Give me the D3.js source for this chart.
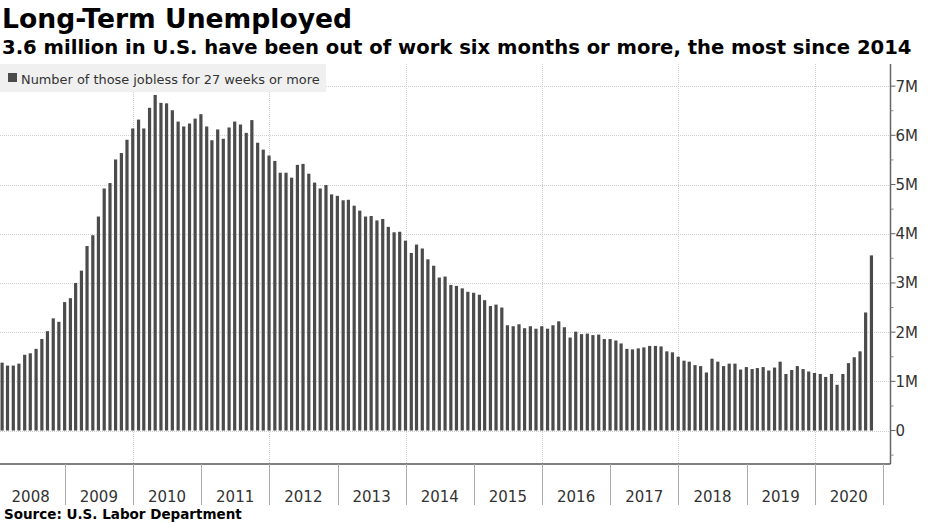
<!DOCTYPE html>
<html>
<head>
<meta charset="utf-8">
<script src="https://cdn.jsdelivr.net/npm/d3@7"></script>
<style>
    body { margin: 0; background: #fff; }
    svg { display: block; font-family: 'DejaVu Sans', Verdana, sans-serif; }
</style>
</head>
<body>
<svg id="chart" width="930" height="523"></svg>
<script>
// Long-term unemployed (27 weeks or more), millions, monthly
const v2008 = [1.38, 1.32, 1.32, 1.36, 1.54, 1.57, 1.66, 1.86, 2.02, 2.28, 2.21, 2.61];
const v2009 = [2.69, 3.00, 3.25, 3.75, 3.97, 4.35, 4.92, 5.03, 5.51, 5.64, 5.91, 6.14];
const v2010 = [6.32, 6.14, 6.56, 6.82, 6.66, 6.65, 6.51, 6.28, 6.18, 6.24, 6.34, 6.43];
const v2011 = [6.18, 5.90, 6.12, 5.93, 6.16, 6.28, 6.22, 6.05, 6.31, 5.85, 5.71, 5.59];
const v2012 = [5.48, 5.24, 5.24, 5.14, 5.40, 5.42, 5.22, 5.04, 4.92, 4.99, 4.80, 4.77];
const v2013 = [4.68, 4.69, 4.57, 4.47, 4.35, 4.36, 4.27, 4.30, 4.14, 4.03, 4.04, 3.86];
const v2014 = [3.61, 3.78, 3.70, 3.48, 3.35, 3.11, 3.13, 2.96, 2.94, 2.89, 2.82, 2.80];
const v2015 = [2.76, 2.65, 2.53, 2.56, 2.50, 2.14, 2.12, 2.16, 2.08, 2.12, 2.07, 2.12];
const v2016 = [2.07, 2.14, 2.22, 2.10, 1.89, 2.01, 1.96, 1.97, 1.94, 1.95, 1.86, 1.86];
const v2017 = [1.83, 1.77, 1.66, 1.65, 1.67, 1.69, 1.72, 1.72, 1.71, 1.61, 1.59, 1.50];
const v2018 = [1.42, 1.40, 1.33, 1.31, 1.18, 1.46, 1.40, 1.31, 1.36, 1.36, 1.24, 1.29];
const v2019 = [1.25, 1.27, 1.29, 1.22, 1.28, 1.40, 1.15, 1.23, 1.31, 1.25, 1.20, 1.17];
const v2020 = [1.15, 1.09, 1.15, 0.93, 1.15, 1.37, 1.49, 1.61, 2.40, 3.56];

const years = [2008, 2009, 2010, 2011, 2012, 2013, 2014, 2015, 2016, 2017, 2018, 2019, 2020];
const yTicks = [0, 1, 2, 3, 4, 5, 6, 7];
const yTickLabels = ['0', '1M', '2M', '3M', '4M', '5M', '6M', '7M'];

const title = 'Long-Term Unemployed';
const subtitle = '3.6 million in U.S. have been out of work six months or more, the most since 2014';
const legendLabel = 'Number of those jobless for 27 weeks or more';
const source = 'Source: U.S. Labor Department';

const BAR_COLOR = '#4b4b4b';
const GRID_COLOR = '#cfcfcf';

// monthly observations are stamped at month end, like the terminal does
const yearly = [v2008, v2009, v2010, v2011, v2012, v2013, v2014, v2015, v2016, v2017, v2018, v2019, v2020];
const data = [];
yearly.forEach((vals, yi) => {
    vals.forEach((v, m) => data.push({ date: new Date(years[yi], m + 1, 0), value: v }));
});

const svg = d3.select('#chart');

const plot = { left: 0, right: 890.5, top: 64, bottom: 464 };

const x = d3.scaleTime()
    .domain([new Date(2008, 0, 1), new Date(2021, 0, 1)])
    .range([-3.5, 883]);

const y = d3.scaleLinear()
    .domain([-0.68, 7.45])
    .range([plot.bottom, plot.top]);

svg.append('defs').append('clipPath').attr('id', 'plot-clip')
    .append('rect')
    .attr('x', plot.left).attr('y', plot.top)
    .attr('width', plot.right - plot.left).attr('height', plot.bottom - plot.top);

// gridlines: every million across, every other year down
const grid = svg.append('g').attr('clip-path', 'url(#plot-clip)');

grid.selectAll('.hgrid')
    .data(yTicks)
    .enter()
    .append('line')
    .attr('x1', plot.left)
    .attr('x2', plot.right)
    .attr('y1', d => Math.round(y(d)) + 0.5)
    .attr('y2', d => Math.round(y(d)) + 0.5)
    .style('stroke', GRID_COLOR)
    .style('stroke-width', '1px')
    .style('stroke-dasharray', '1,1');

grid.selectAll('.vgrid')
    .data(years.filter(d => d % 2 === 0))
    .enter()
    .append('line')
    .attr('x1', d => Math.round(x(new Date(d, 0, 1))) + 0.5)
    .attr('x2', d => Math.round(x(new Date(d, 0, 1))) + 0.5)
    .attr('y1', plot.top)
    .attr('y2', plot.bottom)
    .style('stroke', GRID_COLOR)
    .style('stroke-width', '1px')
    .style('stroke-dasharray', '1,1');

// bars
const barWidth = 3.2;
svg.append('g')
    .attr('clip-path', 'url(#plot-clip)')
    .selectAll('rect')
    .data(data)
    .enter()
    .append('rect')
    .attr('x', d => x(d.date) - barWidth / 2)
    .attr('width', barWidth)
    .attr('y', d => y(d.value))
    .attr('height', d => y(0) - y(d.value))
    .style('fill', BAR_COLOR);

// legend
const legend = svg.append('g');
legend.append('rect')
    .attr('x', 0).attr('y', 64)
    .attr('width', 326).attr('height', 28)
    .style('fill', '#f0f0f0');
legend.append('rect')
    .attr('x', 8).attr('y', 73)
    .attr('width', 9).attr('height', 9)
    .style('fill', BAR_COLOR);
legend.append('text')
    .attr('x', 21).attr('y', 83.5)
    .style('font-size', '12.9px')
    .style('fill', '#333')
    .text(legendLabel);

// right axis
const yAxis = svg.append('g').attr('transform', 'translate(' + plot.right + ',0)');
yAxis.append('line')
    .attr('x1', 0).attr('x2', 0)
    .attr('y1', plot.top).attr('y2', plot.bottom)
    .style('stroke', '#666')
    .style('stroke-width', '1.5px');

const minorTicks = d3.range(-0.5, 7.5, 0.5).filter(d => !Number.isInteger(d));
yAxis.selectAll('.minor')
    .data(minorTicks)
    .enter()
    .append('line')
    .attr('x1', 0).attr('x2', 3)
    .attr('y1', d => y(d)).attr('y2', d => y(d))
    .style('stroke', '#888');

yAxis.selectAll('.major')
    .data(yTicks)
    .enter()
    .append('line')
    .attr('x1', 0).attr('x2', 5)
    .attr('y1', d => y(d)).attr('y2', d => y(d))
    .style('stroke', '#666');

yAxis.selectAll('.label')
    .data(yTicks)
    .enter()
    .append('text')
    .attr('x', 5)
    .attr('y', d => y(d))
    .attr('dy', '0.36em')
    .style('font-size', '15px')
    .style('fill', '#333')
    .text((d, i) => yTickLabels[i]);

// bottom axis
const xAxis = svg.append('g');
xAxis.append('line')
    .attr('x1', plot.left).attr('x2', plot.right)
    .attr('y1', plot.bottom).attr('y2', plot.bottom)
    .style('stroke', '#555')
    .style('stroke-width', '1.5px');

xAxis.selectAll('.sep')
    .data(years.concat([2021]))
    .enter()
    .append('line')
    .attr('x1', d => Math.round(x(new Date(d, 0, 1))) + 0.5)
    .attr('x2', d => Math.round(x(new Date(d, 0, 1))) + 0.5)
    .attr('y1', plot.bottom)
    .attr('y2', 505)
    .style('stroke', '#aaa')
    .style('stroke-width', '1px');

xAxis.selectAll('.year')
    .data(years)
    .enter()
    .append('text')
    .attr('x', d => (x(new Date(d, 0, 1)) + x(new Date(d + 1, 0, 1))) / 2)
    .attr('y', 502)
    .attr('text-anchor', 'middle')
    .style('font-size', '15px')
    .style('fill', '#333')
    .text(d => d);

// titles
svg.append('text')
    .attr('x', 2).attr('y', 28)
    .style('font-size', '26.6px')
    .style('font-weight', 'bold')
    .style('fill', '#000')
    .text(title);

svg.append('text')
    .attr('x', 2).attr('y', 53.5)
    .style('font-size', '19.6px')
    .style('font-weight', 'bold')
    .style('fill', '#000')
    .text(subtitle);

svg.append('text')
    .attr('x', 4).attr('y', 519)
    .style('font-size', '13.5px')
    .style('font-weight', 'bold')
    .style('fill', '#000')
    .text(source);
</script>
</body>
</html>
